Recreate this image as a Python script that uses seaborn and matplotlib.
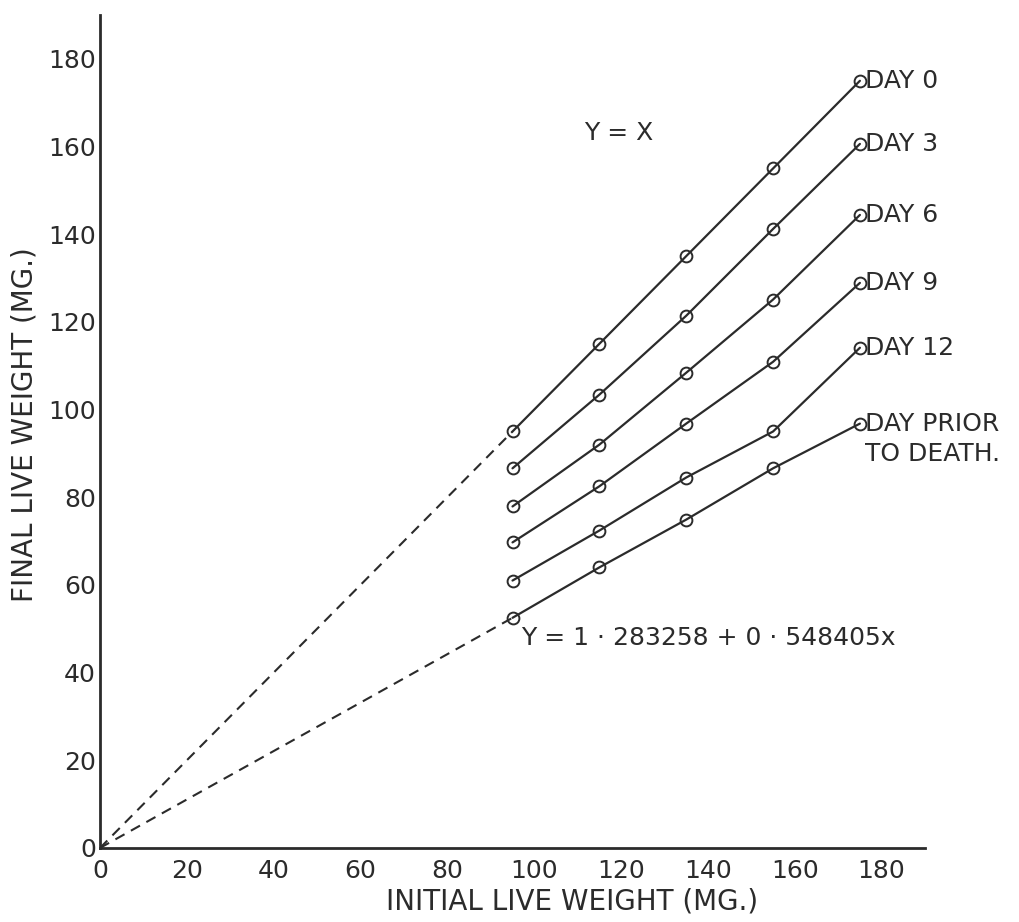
import matplotlib
matplotlib.use("Agg")
import matplotlib.pyplot as plt
import seaborn as sns
import pandas as pd

# ---- data ----
initial_weight = [95, 115, 135, 155, 175]
day_0 = [95, 115, 135, 155, 175]
day_3 = [86.6, 103.4, 121.4, 141.2, 160.6]
day_6 = [77.9, 92.0, 108.4, 125.1, 144.4]
day_9 = [69.7, 82.5, 96.8, 110.9, 128.9]
day_12 = [61.0, 72.4, 84.5, 95.0, 114.1]
day_prior = [52.5, 64.0, 74.9, 86.6, 96.8]
series_labels = ["DAY 0", "DAY 3", "DAY 6", "DAY 9", "DAY 12", "DAY PRIOR\nTO DEATH."]
ticks = [0, 20, 40, 60, 80, 100, 120, 140, 160, 180]
eq_upper = "Y = X"
eq_lower = "Y = 1 · 283258 + 0 · 548405x"

series = [day_0, day_3, day_6, day_9, day_12, day_prior]

rows = []
for lab, vals in zip(series_labels, series):
    for xv, yv in zip(initial_weight, vals):
        rows.append({"initial": xv, "final": yv, "day": lab})
df = pd.DataFrame(rows)

sns.set_theme(style="white")
plt.rcParams["font.family"] = ["DejaVu Sans"]
INK = "#2b2b2b"

fig = plt.figure(figsize=(10.19, 9.22), dpi=100)
ax = fig.add_axes([0.0981, 0.0803, 0.8097, 0.9034])

sns.lineplot(data=df, x="initial", y="final", hue="day", units="day", estimator=None,
             palette=[INK] * len(series_labels), marker="o", markersize=8.5,
             markerfacecolor="none", markeredgecolor=INK, markeredgewidth=1.4,
             linewidth=1.6, legend=False, ax=ax, sort=True)

# dashed extrapolations to the origin
for vals in (day_0, day_prior):
    sns.lineplot(x=[0, initial_weight[0]], y=[0, vals[0]], ax=ax, color=INK,
                 linewidth=1.5, linestyle=(0, (5, 3.5)), legend=False)

# series labels at the right end
LBL = 18
for lab, vals in zip(series_labels, series):
    if "\n" in lab:
        l1, l2 = lab.split("\n")
        ax.text(initial_weight[-1] + 1.2, vals[-1], l1, fontsize=LBL, color=INK,
                ha="left", va="center")
        ax.text(initial_weight[-1] + 1.2, vals[-1] - 7.0, l2, fontsize=LBL, color=INK,
                ha="left", va="center")
    else:
        ax.text(initial_weight[-1] + 1.2, vals[-1], lab, fontsize=LBL, color=INK,
                ha="left", va="center")

ax.text(119.5, 163, eq_upper, fontsize=LBL, color=INK, ha="center", va="center")
ax.text(97.0, 47.8, eq_lower, fontsize=LBL, color=INK, ha="left", va="center")

ax.set_xlim(0, 190)
ax.set_ylim(0, 190)
ax.set_xticks(ticks)
ax.set_yticks(ticks)
ax.set_xticklabels([str(t) for t in ticks], fontsize=18, color=INK)
ax.set_yticklabels([str(t) for t in ticks], fontsize=18, color=INK)
ax.tick_params(axis="both", direction="in", length=9, width=1.6, color=INK)
ax.tick_params(axis="x", pad=8)
ax.tick_params(axis="y", pad=3)

sns.despine(ax=ax)
for side in ("left", "bottom"):
    ax.spines[side].set_color(INK)
    ax.spines[side].set_linewidth(2.0)

ax.set_xlabel("INITIAL LIVE WEIGHT (MG.)", fontsize=20, color=INK)
ax.set_ylabel("FINAL LIVE WEIGHT (MG.)", fontsize=20, color=INK)
ax.xaxis.set_label_coords(0.572, -0.047)
ax.yaxis.set_label_coords(-0.074, 0.508)
ax.grid(False)

fig.savefig("out.png", dpi=100, facecolor="white")
